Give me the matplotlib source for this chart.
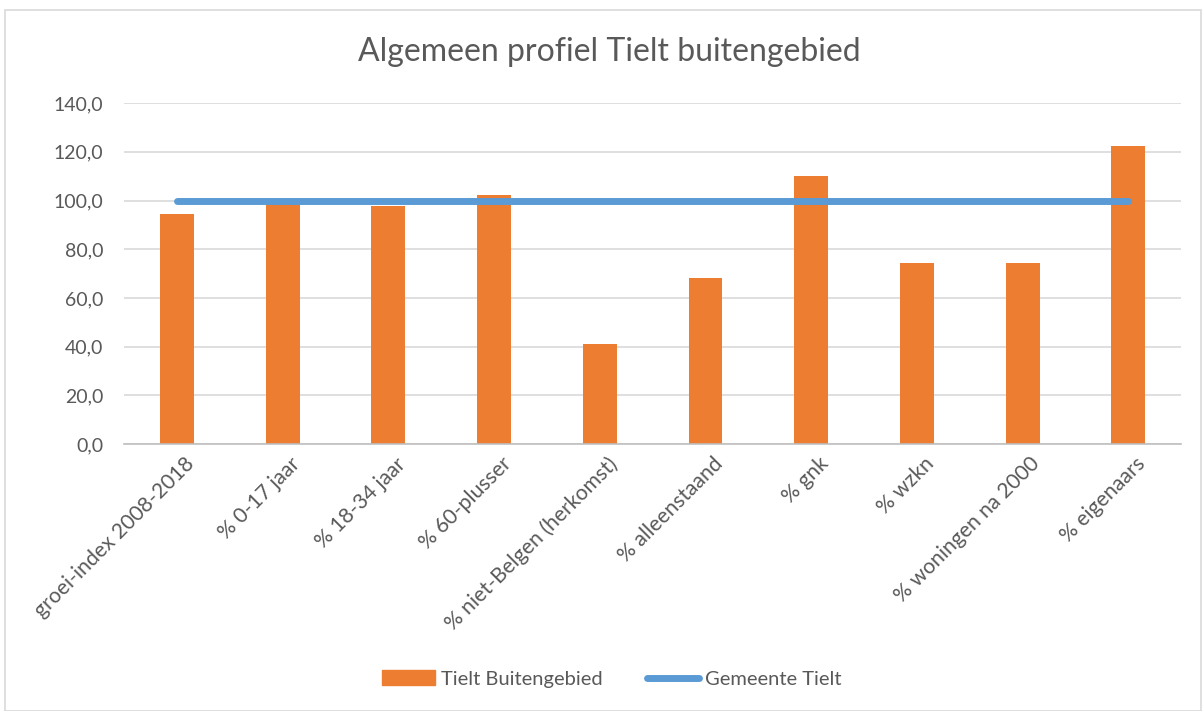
import matplotlib
matplotlib.use("Agg")
import matplotlib.pyplot as plt
from matplotlib.patches import Rectangle
from matplotlib.lines import Line2D
from matplotlib.ticker import FuncFormatter
from matplotlib.transforms import ScaledTranslation

categories = ["groei-index 2008-2018", "% 0-17 jaar", "% 18-34 jaar", "% 60-plusser",
              "% niet-Belgen (herkomst)", "% alleenstaand", "% gnk", "% wzkn",
              "% woningen na 2000", "% eigenaars"]
buitengebied = [94.5, 99.5, 97.6, 102.3, 40.9, 68.3, 109.9, 74.3, 74.3, 122.3]
gemeente = [100.0] * 10

plt.rcParams['font.family'] = ['Lato', 'DejaVu Sans']
fig = plt.figure(figsize=(12.02, 7.11), dpi=100)
ax = fig.add_axes([0.1032, 0.3755, 0.8795, 0.4795])

x = range(len(categories))
ax.bar(x, buitengebied, width=0.32, color="#ED7D31", zorder=2, label="Tielt Buitengebied")
ax.plot(list(x), gemeente, color="#5B9BD5", lw=5, solid_capstyle="round", zorder=3, label="Gemeente Tielt")

ax.set_xlim(-0.5, len(categories) - 0.5)
ax.set_ylim(0, 140)
ax.set_yticks(range(0, 141, 20))
ax.yaxis.set_major_formatter(FuncFormatter(lambda v, p: f"{v:.1f}".replace(".", ",")))
ax.grid(axis="y", color="#D9D9D9", lw=1.2, zorder=0)
ax.set_axisbelow(True)
for s in ["top", "right", "left"]:
    ax.spines[s].set_visible(False)
ax.spines["bottom"].set_color("#BFBFBF")
ax.spines["bottom"].set_linewidth(1.2)
ax.tick_params(axis="y", length=0, labelsize=14, labelcolor="#595959", pad=15)
ax.tick_params(axis="x", length=0, labelsize=15.2, labelcolor="#595959", pad=7)
ax.set_xticks(list(x))
ax.set_xticklabels(categories, rotation=45, ha="right", rotation_mode="anchor")
offset = ScaledTranslation(0.07, 0, fig.dpi_scale_trans)
for lab in ax.get_xticklabels():
    lab.set_transform(lab.get_transform() + offset)

fig.text(0.5065, 0.927, "Algemeen profiel Tielt buitengebied", ha="center", va="center",
         fontsize=23, color="#595959")

handles = [Rectangle((0, 0), 1, 1, color="#ED7D31"),
           Line2D([0], [0], color="#5B9BD5", lw=5, solid_capstyle="round")]
fig.legend(handles, ["Tielt Buitengebied", "Gemeente Tielt"], loc="center",
           bbox_to_anchor=(0.509, 0.045), ncol=2, frameon=False, fontsize=14.5,
           labelcolor="#595959", handlelength=2.6, handletextpad=0.3, columnspacing=2.2)

fig.patches.append(Rectangle((0.004, 0.0), 0.995, 0.986, transform=fig.transFigure,
                             fill=False, edgecolor="#D9D9D9", lw=1.2))

fig.savefig("out.png", dpi=100)
